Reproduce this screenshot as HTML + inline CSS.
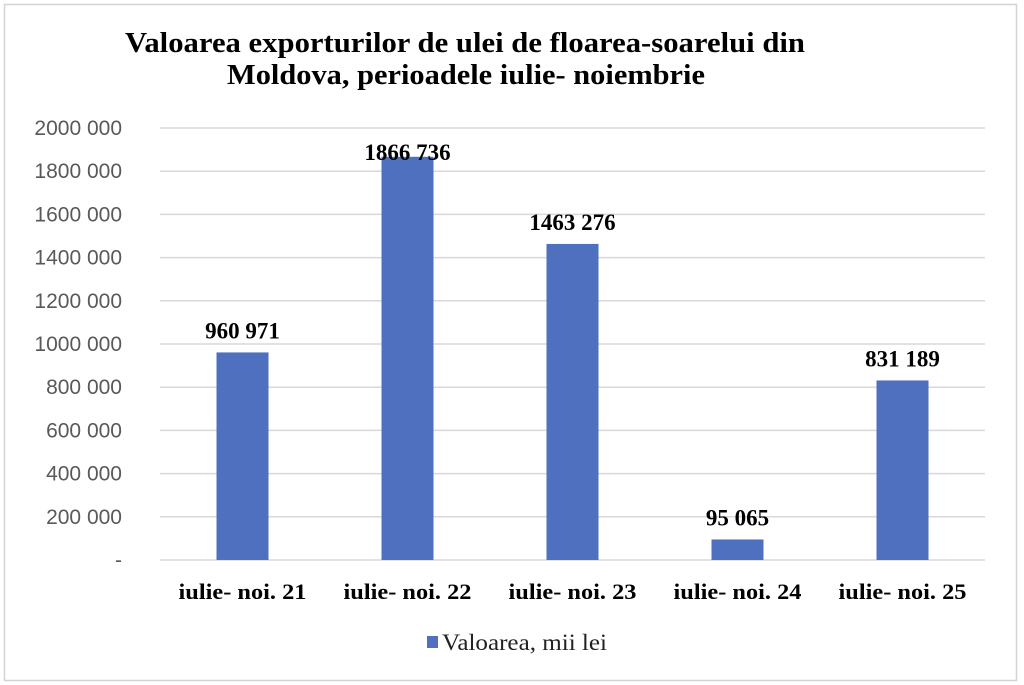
<!DOCTYPE html>
<html><head><meta charset="utf-8"><style>
html,body{margin:0;padding:0;background:#fff;width:1024px;height:685px;overflow:hidden}
svg{display:block}
</style></head><body>
<svg id="chart" width="1024" height="685" xmlns="http://www.w3.org/2000/svg">
<rect x="4.5" y="4.5" width="1012" height="676" fill="#fff" stroke="#d4d4d4" stroke-width="1.5"/>
<text x="465" y="52" text-anchor="middle" font-family="Liberation Serif, serif" font-weight="bold" font-size="29" textLength="680" lengthAdjust="spacingAndGlyphs">Valoarea exporturilor de ulei de floarea-soarelui  din</text>
<text x="466" y="84" text-anchor="middle" font-family="Liberation Serif, serif" font-weight="bold" font-size="29" textLength="478" lengthAdjust="spacingAndGlyphs">Moldova, perioadele iulie- noiembrie</text>
<g id="grid"></g><g id="bars"></g><g id="labels"></g>
<rect x="427" y="636" width="11" height="12" fill="#4f70be"/>
<text x="442" y="650" font-family="Liberation Serif, serif" font-size="23" fill="#222" textLength="165" lengthAdjust="spacingAndGlyphs">Valoarea, mii lei</text>
</svg>
<script>
const categories = ["iulie- noi. 21","iulie- noi. 22","iulie- noi. 23","iulie- noi. 24","iulie- noi. 25"];
const values = [960971, 1866736, 1463276, 95065, 831189];
const valueLabels = ["960 971","1866 736","1463 276","95 065","831 189"];
const yTicks = [0,200000,400000,600000,800000,1000000,1200000,1400000,1600000,1800000,2000000];
const yTickLabels = ["-","200 000","400 000","600 000","800 000","1000 000","1200 000","1400 000","1600 000","1800 000","2000 000"];

const NS="http://www.w3.org/2000/svg";
const L=160,R=985,T=128,B=560,MAX=2000000;
const y=v=>B-(v/MAX)*(B-T);
const band=(R-L)/categories.length;
const x=i=>L+band*(i+0.5);
function mk(tag,attrs,parent,text){const e=document.createElementNS(NS,tag);for(const k in attrs)e.setAttribute(k,attrs[k]);if(text!==undefined)e.textContent=text;document.getElementById(parent).appendChild(e);return e;}
yTicks.forEach((t,i)=>{
  const g=mk('line',{x1:L,x2:R,y1:y(t),y2:y(t),stroke:'#d9d9d9','stroke-width':1.5},'grid');
  
  
  const tl=mk('text',{x:122,y:y(t)+7,'text-anchor':'end','font-family':'Liberation Sans, sans-serif','font-size':'21',fill:'#595959'},'grid',yTickLabels[i]);
  
  
});
categories.forEach((c,i)=>{
  const bw=52;
  const b=mk('rect',{x:x(i)-bw/2,y:y(values[i]),width:bw,height:B-y(values[i]),fill:'#4f70be'},'bars');
  
  
  const ly=Math.max(y(values[i])-14,160);
  const vl=mk('text',{x:x(i),y:ly,'text-anchor':'middle','font-family':'Liberation Serif, serif','font-weight':'bold','font-size':'23',fill:'#000'},'labels',valueLabels[i]);
  
  
  const cl=mk('text',{x:x(i),y:599,'text-anchor':'middle','font-family':'Liberation Serif, serif','font-weight':'bold','font-size':'22',fill:'#000',textLength:128,lengthAdjust:'spacingAndGlyphs'},'labels',c);
  
  
});
</script>
</body></html>
